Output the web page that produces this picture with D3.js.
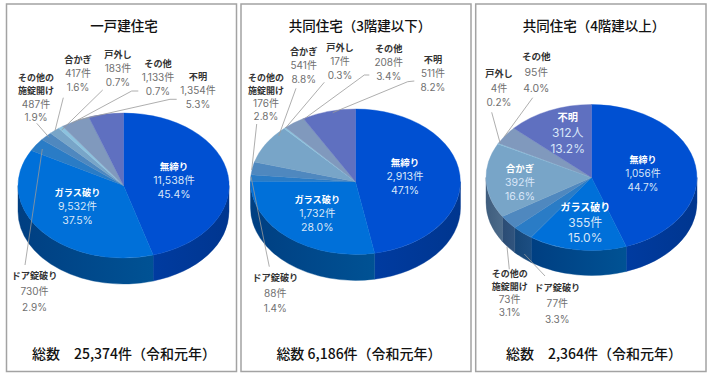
<!DOCTYPE html>
<html>
<head>
<meta charset="utf-8">
<script src="https://cdn.jsdelivr.net/npm/d3@7"></script>
<style>
  html, body { margin: 0; padding: 0; background: #fff; }
  svg { display: block; }
  text { font-family: "Noto Sans CJK JP", "Noto Sans", sans-serif; text-anchor: middle; dominant-baseline: central; }
  tspan.value { font-family: Inter, "Noto Sans CJK JP", sans-serif; }
</style>
</head>
<body>
<svg id="chart" width="711" height="376"></svg>
<script>
// Data. Every pie keeps the same category order.
const categories = ["無締り", "ガラス破り", "ドア錠破り", "その他の\n施錠開け", "合かぎ", "戸外し", "その他", "不明"];

const houseCounts = [11538, 9532, 730, 487, 417, 183, 1133, 1354];
const houseShares = ["45.4%", "37.5%", "2.9%", "1.9%", "1.6%", "0.7%", "0.7%", "5.3%"];

const lowRiseCounts = [2913, 1732, 88, 176, 541, 17, 208, 511];
const lowRiseShares = ["47.1%", "28.0%", "1.4%", "2.8%", "8.8%", "0.3%", "3.4%", "8.2%"];

const highRiseCounts = [1056, 355, 77, 73, 392, 4, 95, 312];
const highRiseShares = ["44.7%", "15.0%", "3.3%", "3.1%", "16.6%", "0.2%", "4.0%", "13.2%"];

const topColors = ["#0050d2", "#0070d9", "#2a7cc6", "#4f88bf", "#78a5c8", "#8cc2de", "#8099bd", "#5f70c0"];
// side wall: left colour, right colour
const sideColors = [
  ["#003ba0", "#00368f"], ["#003f82", "#005294"], ["#164677", "#1c4e82"], ["#2b4c74", "#30547e"],
  ["#3f5d7d", "#4c6b8a"], ["#4c6b8a", "#4c6b8a"], ["#4c5f80", "#4c5f80"], ["#3a4a88", "#3a4a88"]
];

const fmt = d3.format(",");

// Layout of each panel: labels are [x, y of first line, line step, name size, value size],
// leaders are polylines.
const panels = [
  {
    title: "一戸建住宅", total: "総数　25,374件（令和元年）",
    counts: houseCounts, shares: houseShares, units: {},
    box: [6.5, 4, 230, 367.5], cx: 123.5, cy: 185.5, rx: 105.5, ry: 72.5, depth: 26, titleX: 124, totalX: 124,
    labels: [[174, 165.7, 14.2, 9.5, 10.5], [77.5, 191.7, 14.2, 9.2, 10.5], [34.5, 275, 16, 9.2, 10], [36, 77, 13.4, 9, 10], [78, 59, 14, 9.2, 10], [118, 54, 14, 9.2, 10], [158, 63, 14, 9.2, 10], [198, 76, 14, 9.2, 10]],
    inside: [0, 1],
    leaders: [
      [[25, 265], [42.3, 149]], [[36.7, 123.3], [49, 137.3]], [[63.3, 97.7], [55, 130.7]], [[102.7, 90], [61.7, 130]],
      [[138.3, 91], [131.7, 91], [71.7, 123.3]], [[176.7, 99.3], [170, 99.3], [78, 120]]
    ]
  },
  {
    title: "共同住宅（3階建以下）", total: "総数 6,186件（令和元年）",
    counts: lowRiseCounts, shares: lowRiseShares, units: {},
    box: [241, 4, 230, 367.5], cx: 355.5, cy: 181.7, rx: 105, ry: 72.7, depth: 26, titleX: 360, totalX: 359,
    labels: [[405, 162, 14.2, 9.5, 10.5], [317.3, 199, 14, 9.2, 10.5], [275.3, 276.7, 15.8, 9.2, 10], [266, 76.7, 13.2, 9, 10], [303.7, 50.7, 14.2, 9.2, 10], [340, 47, 13.9, 9.2, 10], [388.7, 47.7, 14, 9.2, 10], [433, 58.7, 14, 9.2, 10]],
    inside: [0, 1],
    leaders: [
      [[269.3, 266.7], [251, 176.7]], [[256.7, 124], [251.7, 170]], [[296, 88.3], [278.7, 136]], [[324.3, 82.3], [285.3, 128.3]],
      [[369.3, 75], [364.3, 75], [302.7, 120]], [[414.3, 81], [407.7, 81.7], [332.7, 112.7]]
    ]
  },
  {
    title: "共同住宅（4階建以上）", total: "総数　2,364件（令和元年）",
    counts: highRiseCounts, shares: highRiseShares, units: { 7: "人" },
    box: [475.7, 4, 230.3, 367.5], cx: 591.5, cy: 177.5, rx: 105.5, ry: 73, depth: 25, titleX: 594, totalX: 594,
    labels: [[643, 158.7, 14.3, 9, 10], [585.3, 205.7, 15.8, 10, 12], [557.3, 287.3, 16, 9.2, 10], [509.7, 272.7, 13.2, 9, 10], [520, 168, 14, 9.5, 10.5], [499, 73.3, 14.2, 9.2, 10], [536.3, 56, 16, 9.6, 10.5], [567.7, 116.3, 15.8, 10.2, 12]],
    inside: [0, 1, 4, 7],
    leaders: [
      [[545, 276], [524.3, 254]], [[509.3, 269.3], [507, 246.7]], [[491.7, 112.3], [500, 142.7]], [[532.7, 97.7], [504.3, 136.7]]
    ]
  }
];

const svg = d3.select("#chart");
svg.append("rect").attr("width", 711).attr("height", 376).attr("fill", "#fff");
const defs = svg.append("defs");

const pie = d3.pie().sort(null).value(d => d);
const arc = d3.arc().innerRadius(0).outerRadius(1);

panels.forEach((p, pi) => {
  const g = svg.append("g");

  g.append("rect")
    .attr("x", p.box[0]).attr("y", p.box[1])
    .attr("width", p.box[2]).attr("height", p.box[3])
    .attr("fill", "#fff").attr("stroke", "#a3a3a3").attr("stroke-width", 1.5);

  g.append("text").attr("x", p.titleX).attr("y", 25)
    .attr("font-size", 13.5).attr("font-weight", 500).attr("fill", "#111").text(p.title);
  g.append("text").attr("x", p.totalX).attr("y", 353)
    .attr("font-size", 14).attr("font-weight", 500).attr("fill", "#111").text(p.total);

  const slices = pie(p.counts);
  const px = a => p.cx + p.rx * Math.sin(a);
  const py = a => p.cy - p.ry * Math.cos(a);

  // side wall, only the part of each slice that faces the viewer
  slices.forEach((s, i) => {
    const a0 = Math.max(s.startAngle, Math.PI / 2);
    const a1 = Math.min(s.endAngle, Math.PI * 1.5);
    if (a1 <= a0) return;
    const id = `side-${pi}-${i}`;
    const grad = defs.append("linearGradient").attr("id", id)
      .attr("gradientUnits", "userSpaceOnUse")
      .attr("x1", Math.min(px(a0), px(a1))).attr("x2", Math.max(px(a0), px(a1)))
      .attr("y1", 0).attr("y2", 0);
    grad.append("stop").attr("offset", 0).attr("stop-color", sideColors[i][0]);
    grad.append("stop").attr("offset", 1).attr("stop-color", sideColors[i][1]);

    g.append("path")
      .attr("d", `M${px(a0)},${py(a0)}A${p.rx},${p.ry} 0 0 1 ${px(a1)},${py(a1)}` +
        `L${px(a1)},${py(a1) + p.depth}A${p.rx},${p.ry} 0 0 0 ${px(a0)},${py(a0) + p.depth}Z`)
      .attr("fill", `url(#${id})`)
      .attr("stroke", `url(#${id})`)
      .attr("stroke-width", 0.4);
  });

  // top face: a unit pie squashed into the ellipse
  g.append("g")
    .attr("transform", `translate(${p.cx},${p.cy}) scale(${p.rx},${p.ry})`)
    .selectAll("path")
    .data(slices)
    .join("path")
    .attr("d", arc)
    .attr("fill", (d, i) => topColors[i])
    .attr("stroke", (d, i) => topColors[i])
    .attr("stroke-width", 0.4)
    .attr("vector-effect", "non-scaling-stroke");

  // leader lines
  const line = d3.line();
  g.selectAll("path.leader")
    .data(p.leaders)
    .join("path")
    .attr("class", "leader")
    .attr("d", line)
    .attr("fill", "none")
    .attr("stroke", "#999")
    .attr("stroke-width", 0.8);

  // labels, one text element per label
  categories.forEach((name, i) => {
    const [x, y, step, nameSize, valueSize] = p.labels[i];
    const inside = p.inside.includes(i);
    const nameLines = name.split("\n");
    const label = g.append("text");
    nameLines.forEach((t, k) => {
      label.append("tspan").attr("x", x).attr("y", y + k * step)
        .attr("font-size", nameSize).attr("font-weight", 700)
        .attr("fill", inside ? "#fff" : "#333").text(t);
    });
    const unit = p.units[i] || "件";
    [fmt(p.counts[i]) + unit, p.shares[i]].forEach((t, k) => {
      label.append("tspan").attr("class", "value")
        .attr("x", x).attr("y", y + (k + nameLines.length) * step)
        .attr("font-size", valueSize).attr("font-weight", 400)
        .attr("fill", inside ? "#d8e6f8" : "#707070").text(t);
    });
  });
});
</script>
</body>
</html>
